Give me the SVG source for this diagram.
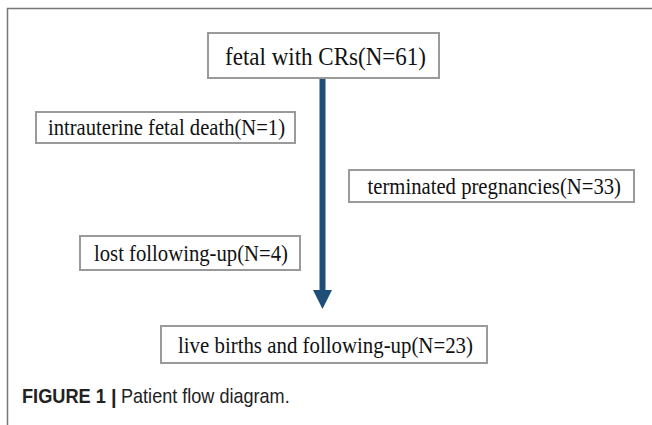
<svg xmlns="http://www.w3.org/2000/svg" width="652" height="425" viewBox="0 0 652 425">
<style>
.box{fill:#fff;stroke:#9a9a9a;stroke-width:2}
.t{font-family:"Liberation Serif","Times New Roman",serif;font-size:23px;fill:#111}
.big{font-size:25.5px}
.cap{font-family:"Liberation Sans",Arial,sans-serif;font-size:20px;fill:#222}
</style>
<rect width="652" height="425" fill="#fff"/>
<path d="M7.5,425 V8.5 H652" fill="none" stroke="#777" stroke-width="1.5"/>
<g id="connectors">
<line x1="322.5" y1="78" x2="322.5" y2="292" stroke="#1f4e79" stroke-width="6"/>
<polygon points="313,290 332,290 322.5,309" fill="#1f4e79"/>
</g>
<g id="n1"><rect class="box" x="208" y="33" width="231" height="45"/><text class="t big" x="225" y="65" textLength="201" lengthAdjust="spacingAndGlyphs">fetal with CRs(N=61)</text></g>
<g id="n2"><rect class="box" x="36" y="112" width="259" height="31"/><text class="t" x="48" y="135" textLength="237" lengthAdjust="spacingAndGlyphs">intrauterine fetal death(N=1)</text></g>
<g id="n3"><rect class="box" x="349" y="170" width="285" height="32"/><text class="t" x="367.5" y="194" textLength="253.5" lengthAdjust="spacingAndGlyphs">terminated pregnancies(N=33)</text></g>
<g id="n4"><rect class="box" x="80" y="236" width="220" height="34"/><text class="t" x="94" y="261" textLength="194" lengthAdjust="spacingAndGlyphs">lost following-up(N=4)</text></g>
<g id="n5"><rect class="box" x="161" y="326" width="326" height="37"/><text class="t" x="178" y="353" textLength="295" lengthAdjust="spacingAndGlyphs">live births and following-up(N=23)</text></g>
<g id="caption">
<text class="cap" transform="translate(22,403) scale(0.91,1)" font-weight="bold">FIGURE 1</text>
<text class="cap" x="111" y="404" font-weight="bold">|</text>
<text class="cap" transform="translate(121,403) scale(0.904,1)">Patient flow diagram.</text>
</g>
</svg>
